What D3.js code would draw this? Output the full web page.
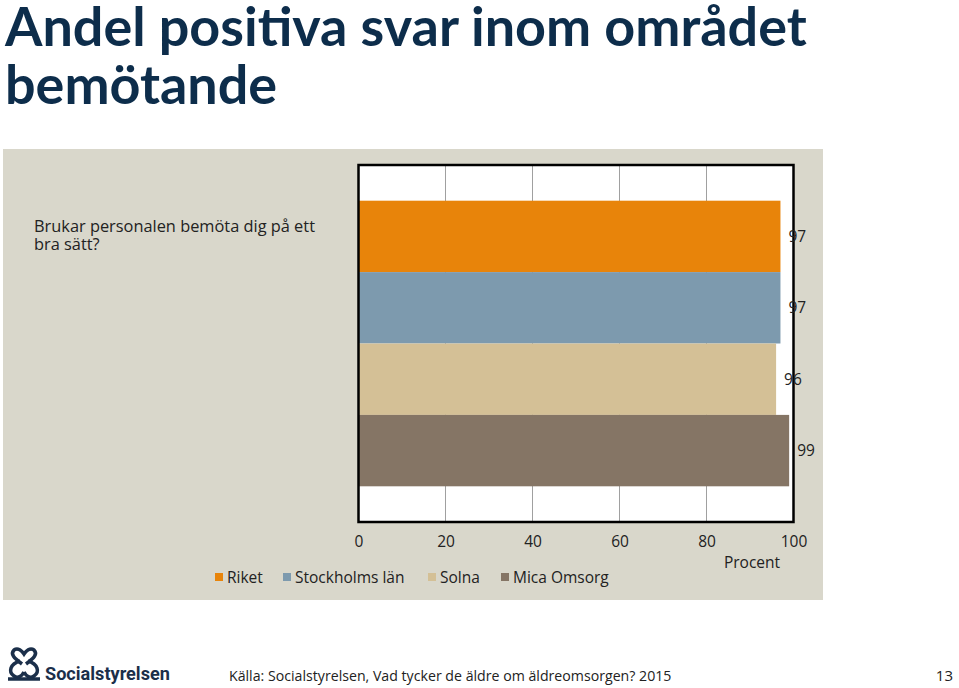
<!DOCTYPE html>
<html>
<head>
<meta charset="utf-8">
<script src="https://cdn.jsdelivr.net/npm/d3@7"></script>
<style>
  body { margin: 0; background: #fff; }
  svg { display: block; font-family: "Open Sans", "DejaVu Sans", sans-serif; }
</style>
</head>
<body>
<div id="chart"></div>
<script>
// data
const titleLines = ["Andel positiva svar inom området", "bemötande"];
const categories = ["Brukar personalen bemöta dig på ett", "bra sätt?"];
const series = ["Riket", "Stockholms län", "Solna", "Mica Omsorg"];
const values = [97, 97, 96, 99];
const colors = ["#e8840a", "#7d9aae", "#d4c096", "#857565"];
const xTicks = [0, 20, 40, 60, 80, 100];
const source = "Källa: Socialstyrelsen, Vad tycker de äldre om äldreomsorgen? 2015";
const pageNo = "13";

const W = 959, H = 688;
const svg = d3.select("#chart").append("svg")
    .attr("width", W)
    .attr("height", H);

// fit a text element to a target width by changing font size
function fit(sel, target) {
    const w = sel.node().getComputedTextLength();
    const fs = parseFloat(sel.attr("font-size"));
    sel.attr("font-size", fs * target / w);
    return fs * target / w;
}

// title
const t1 = svg.append("text")
    .attr("x", 5).attr("y", 46)
    .attr("font-size", 50)
    .attr("font-weight", "bold")
    .style("font-family", "Lato, sans-serif")
    .attr("fill", "#0d2d4b")
    .text(titleLines[0]);
const tfs = fit(t1, 802);
svg.append("text")
    .attr("x", 5).attr("y", 104)
    .attr("font-size", tfs)
    .attr("font-weight", "bold")
    .style("font-family", "Lato, sans-serif")
    .attr("fill", "#0d2d4b")
    .text(titleLines[1]);

// grey panel
svg.append("rect")
    .attr("x", 3).attr("y", 149)
    .attr("width", 820).attr("height", 451)
    .attr("fill", "#d9d7cb");

const plot = { left: 358.5, right: 793.5, top: 165, bottom: 522 };

const x = d3.scaleLinear().domain([0, 100]).range([plot.left, plot.right]);
const y = d3.scaleBand().domain(series).range([plot.top, plot.bottom])
    .paddingInner(0).paddingOuter(0.5);

const g = svg.append("g");

g.append("rect")
    .attr("x", plot.left).attr("y", plot.top)
    .attr("width", plot.right - plot.left).attr("height", plot.bottom - plot.top)
    .attr("fill", "#fff");

// gridlines
g.selectAll(".grid").data(xTicks.slice(1, -1)).join("line")
    .attr("x1", d => x(d)).attr("x2", d => x(d))
    .attr("y1", plot.top).attr("y2", plot.bottom)
    .attr("stroke", "#a0a0a0").attr("stroke-width", 1);

// bars
g.selectAll(".bar").data(series).join("rect")
    .attr("x", x(0))
    .attr("y", d => y(d))
    .attr("width", (d, i) => x(values[i]) - x(0))
    .attr("height", y.bandwidth())
    .attr("fill", (d, i) => colors[i]);

// frame
g.append("rect")
    .attr("x", plot.left).attr("y", plot.top)
    .attr("width", plot.right - plot.left).attr("height", plot.bottom - plot.top)
    .attr("fill", "none")
    .attr("stroke", "#000").attr("stroke-width", 2.5);

// value labels
g.selectAll(".lbl").data(series).join("text")
    .attr("x", (d, i) => x(values[i]) + 8)
    .attr("y", d => y(d) + y.bandwidth() / 2)
    .attr("dy", "0.35em")
    .attr("font-size", 15.5)
    .attr("fill", "#222")
    .text((d, i) => values[i]);

// x axis
const xAxis = svg.append("g")
    .attr("transform", `translate(0,${plot.bottom + 12})`)
    .call(d3.axisBottom(x).tickValues(xTicks).tickSize(0).tickPadding(2));
xAxis.select(".domain").remove();
xAxis.selectAll("text")
    .attr("font-size", 15.5)
    .style("font-family", "'Open Sans', sans-serif")
    .attr("fill", "#222");

svg.append("text")
    .attr("x", 752).attr("y", 568)
    .attr("text-anchor", "middle")
    .attr("font-size", 15.5)
    .attr("fill", "#222")
    .text("Procent");

// category label
const cats = svg.selectAll(".cat").data(categories).join("text")
    .attr("x", 34)
    .attr("y", (d, i) => 232 + i * 18)
    .attr("font-size", 15.5)
    .attr("fill", "#222")
    .text(d => d);
const cfs = fit(d3.select(cats.nodes()[0]), 281);
cats.attr("font-size", cfs);

// legend
const legX = [215, 283, 428, 501];
const leg = svg.selectAll(".leg").data(series).join("g")
    .attr("transform", (d, i) => `translate(${legX[i]},573)`);
leg.append("rect")
    .attr("width", 8).attr("height", 8)
    .attr("fill", (d, i) => colors[i]);
leg.append("text")
    .attr("x", 12).attr("y", 10)
    .attr("font-size", 15.5)
    .attr("fill", "#222")
    .text(d => d);

// footer
const src = svg.append("text")
    .attr("x", 229).attr("y", 681)
    .attr("font-size", 15)
    .attr("fill", "#222")
    .text(source);
fit(src, 443);
svg.append("text")
    .attr("x", 953).attr("y", 681)
    .attr("text-anchor", "end")
    .attr("font-size", 15)
    .attr("fill", "#222")
    .text(pageNo);

// logo
const logo = svg.append("g").attr("fill", "none").attr("stroke", "#1b2f4a").attr("stroke-width", 3.5);
logo.append("path").attr("d", "M22,664 C14,658 10,654 14,650 C18,647 22,651 24,654 C26,651 30,647 34,650 C38,654 34,658 26,664");
logo.append("path").attr("d", "M20,661 C10,664 8,672 14,676 C18,679 22,676 24,672");
logo.append("path").attr("d", "M28,661 C38,664 40,672 34,676 C30,679 26,676 24,672");
logo.append("path").attr("d", "M8,679 L40,679");
const lt = svg.append("text")
    .attr("x", 45).attr("y", 680)
    .attr("font-size", 22)
    .attr("font-weight", "bold")
    .attr("fill", "#1b2f4a")
    .style("font-family", "Roboto, sans-serif")
    .text("Socialstyrelsen");
fit(lt, 125);
</script>
</body>
</html>
